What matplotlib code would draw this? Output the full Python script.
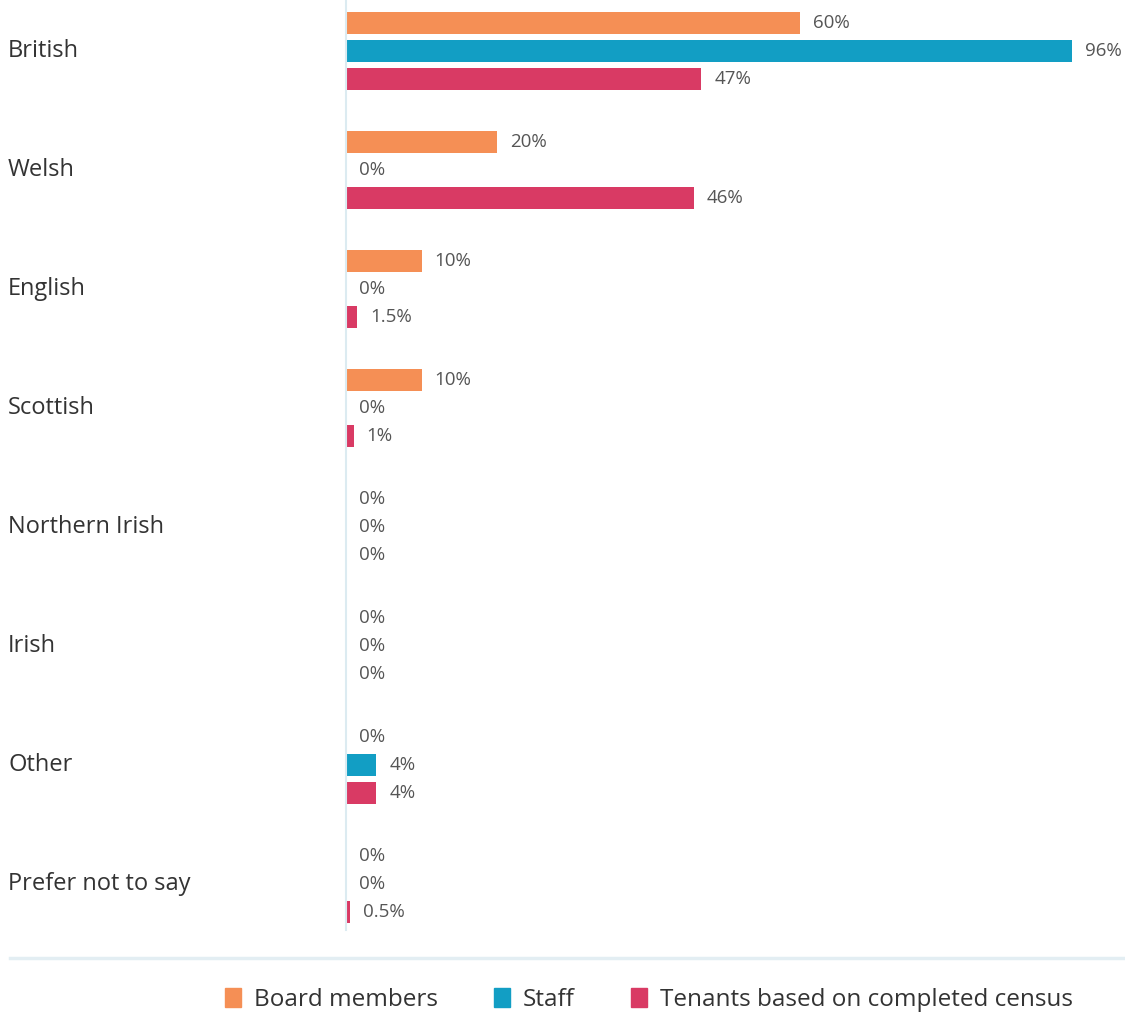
import numpy as np
import matplotlib.pyplot as plt
from matplotlib.lines import Line2D
from matplotlib.patches import Rectangle
from matplotlib.transforms import blended_transform_factory

categories = ["British", "Welsh", "English", "Scottish", "Northern Irish",
              "Irish", "Other", "Prefer not to say"]
series = ["Board members", "Staff", "Tenants based on completed census"]
board = [60, 20, 10, 10, 0, 0, 0, 0]
staff = [96, 0, 0, 0, 0, 0, 4, 0]
tenants = [47, 46, 1.5, 1, 0, 0, 4, 0.5]
colors = ["#F58F55", "#129EC4", "#D93A64"]

plt.rcParams['font.family'] = ['Open Sans', 'DejaVu Sans']

W, H = 1125, 1018
fig = plt.figure(figsize=(W / 100, H / 100), dpi=100)
ax = fig.add_axes([346 / W, 88 / H, 1 - 346 / W, 1 - 88 / H])

y = np.arange(len(categories))
offset = 28 / 119
height = 22 / 119

for k, (vals, col) in enumerate(zip([board, staff, tenants], colors)):
    pos = y + (k - 1) * offset
    ax.barh(pos, vals, height=height, color=col, linewidth=0)
    for p, v in zip(pos, vals):
        ax.annotate(f"{v:g}%", (v, p), xytext=(13, 0), textcoords='offset pixels',
                    va='center', ha='left', fontsize=13.5, color='#555555')

ax.set_xlim(0, 103)
ax.set_ylim((930 - 51) / 119, -51 / 119)
ax.set_xticks([])
ax.set_yticks([])
for s in ['top', 'right', 'bottom']:
    ax.spines[s].set_visible(False)
ax.spines['left'].set_color('#DCEBF1')
ax.spines['left'].set_linewidth(1.5)

# category names sit at the far left of the figure
trans = blended_transform_factory(fig.transFigure, ax.transData)
for yi, name in zip(y, categories):
    ax.text(8 / W, yi, name, transform=trans, ha='left', va='center',
            fontsize=17, color='#333333')

# separator above the legend
fig.add_artist(Line2D([10 / W, 1], [1 - 958 / H, 1 - 958 / H],
                      color='#E3EEF3', linewidth=2.5))

handles = [Rectangle((0, 0), 1, 1, color=c) for c in colors]
fig.legend(handles, series, loc='center', bbox_to_anchor=(649 / W, 1 - 1000 / H),
           ncol=3, frameon=False, fontsize=17.5, handlelength=0.65, handleheight=0.85,
           handletextpad=0.55, columnspacing=2.3, labelcolor='#333333')

fig.savefig("out.png", dpi=100)
